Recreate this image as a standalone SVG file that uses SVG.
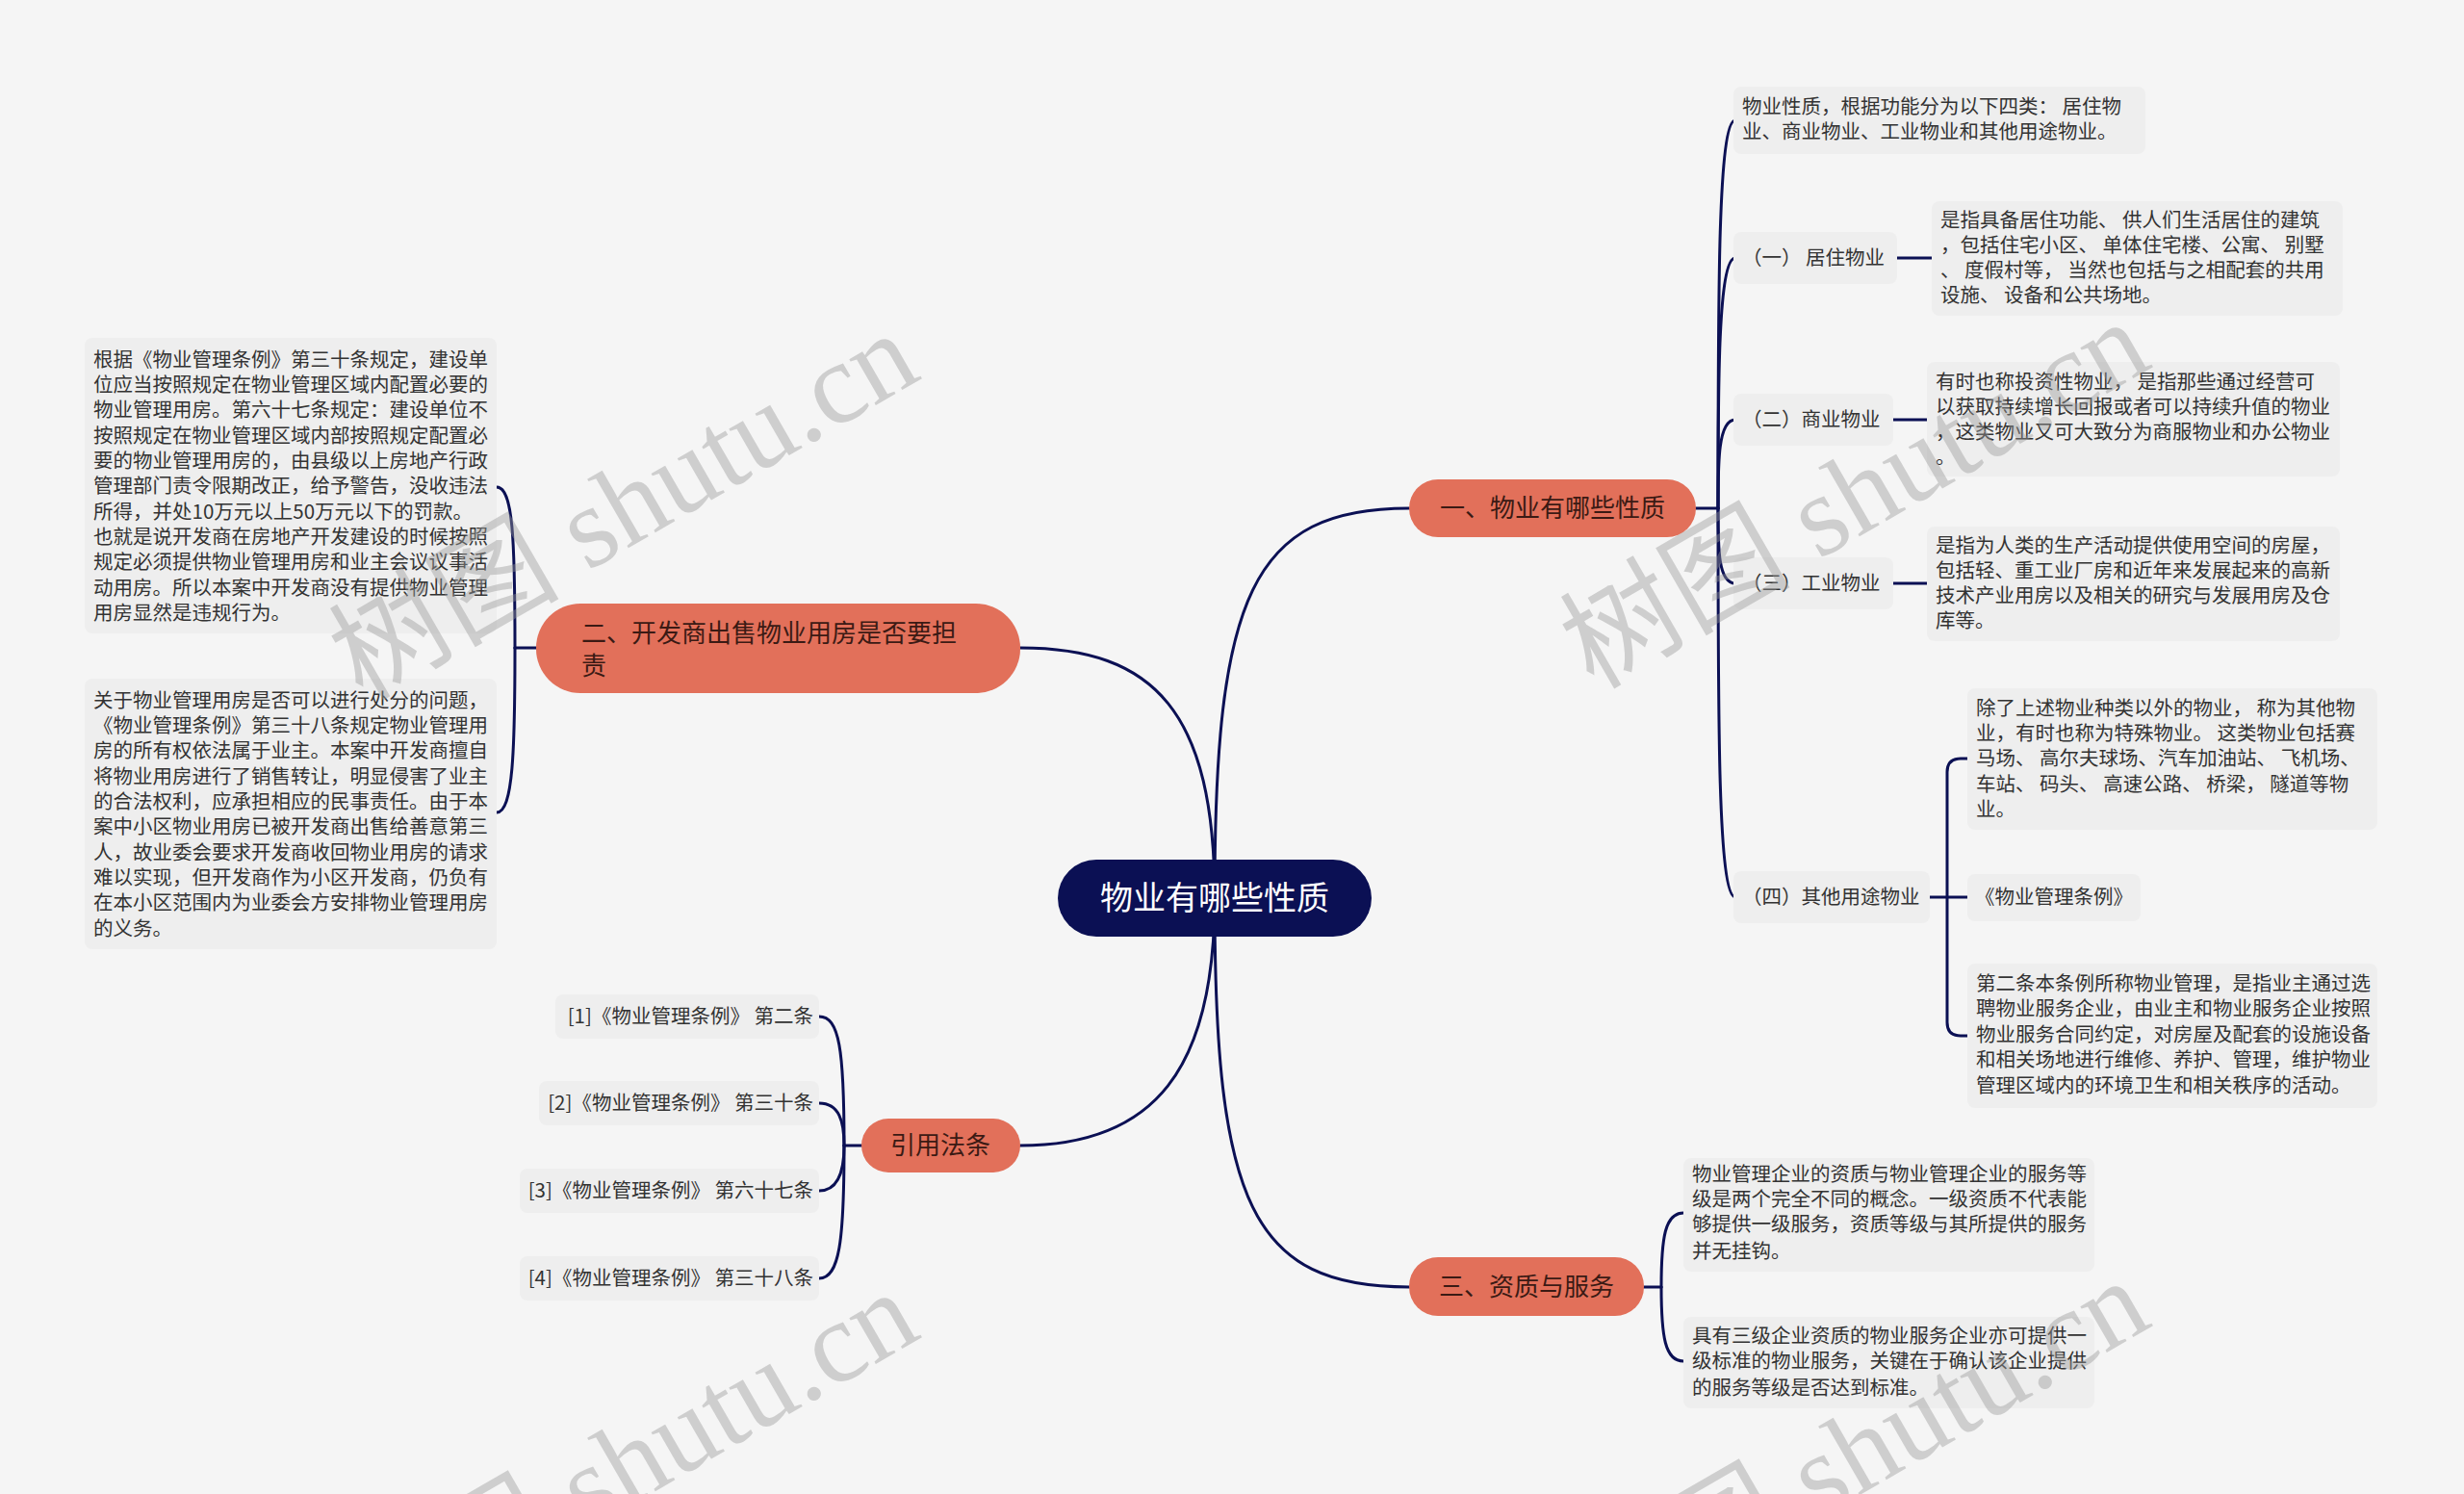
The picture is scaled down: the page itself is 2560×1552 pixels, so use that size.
<svg xmlns="http://www.w3.org/2000/svg" width="2560" height="1552" viewBox="0 0 2560 1552">
<style>
.bg{fill:#f5f5f5}
.box{fill:#eeeeee}
.t{font-family:"Noto Sans CJK SC","Noto Sans",sans-serif;font-size:20.5px;fill:#333333}
.main{fill:#e2705a}
.mt{font-family:"Noto Sans CJK SC","Noto Sans",sans-serif;font-size:26px;fill:#3b1a14}
.root{fill:#0b1054}
.rt{font-family:"Noto Sans CJK SC","Noto Sans",sans-serif;font-size:34px;fill:#ffffff}
.c{fill:none;stroke:#0b1054;stroke-width:3;stroke-linecap:round}
.wm{font-family:"Liberation Serif","Noto Sans CJK SC",serif;font-size:120px;fill:#999999;fill-opacity:0.42}
</style>
<rect class="bg" x="0" y="0" width="2560" height="1552"/>

<g id="connectors">
  <!-- root to main branches -->
  <path class="c" d="M1262 933 C1262 620,1300 528,1464 528"/>
  <path class="c" d="M1262 933 C1262 740,1200 673,1060 673"/>
  <path class="c" d="M1262 933 C1262 1110,1200 1190,1060 1190"/>
  <path class="c" d="M1262 933 C1262 1250,1300 1337,1464 1337"/>
  <!-- branch 一 -->
  <path class="c" d="M1762 528 L1785 528"/>
  <path class="c" d="M1785 528 C1785 300,1785 125,1803 125"/>
  <path class="c" d="M1785 528 C1785 400,1785 268,1803 268"/>
  <path class="c" d="M1785 528 C1785 480,1785 436,1803 436"/>
  <path class="c" d="M1785 528 C1785 570,1785 606,1803 606"/>
  <path class="c" d="M1785 528 C1785 750,1785 932,1803 932"/>
  <path class="c" d="M1971 268 L2007 268"/>
  <path class="c" d="M1967 436 L2002 436"/>
  <path class="c" d="M1967 606 L2002 606"/>
  <!-- (四) -->
  <path class="c" d="M2005 932 L2044 932"/>
  <path class="c" d="M2023 932 L2023 802 Q2023 788 2037 788 L2044 788"/>
  <path class="c" d="M2023 932 L2023 1062 Q2023 1076 2037 1076 L2044 1076"/>
  <!-- branch 三 -->
  <path class="c" d="M1708 1337 L1726 1337"/>
  <path class="c" d="M1726 1337 C1726 1285,1730 1260,1749 1260"/>
  <path class="c" d="M1726 1337 C1726 1389,1730 1414,1749 1414"/>
  <!-- branch 二 -->
  <path class="c" d="M557 673 L535 673"/>
  <path class="c" d="M535 673 C535 560,533 506,516 506"/>
  <path class="c" d="M535 673 C535 780,533 844,516 844"/>
  <!-- branch 引用法条 -->
  <path class="c" d="M895 1190 L877 1190"/>
  <path class="c" d="M877 1190 C877 1090,872 1056,851 1056"/>
  <path class="c" d="M877 1190 C877 1165,872 1146,851 1146"/>
  <path class="c" d="M877 1190 C877 1215,872 1237,851 1237"/>
  <path class="c" d="M877 1190 C877 1290,872 1328,851 1328"/>
</g>

<g id="root">
  <rect class="root" x="1099" y="893" width="326" height="80" rx="40"/>
  <text class="rt" x="1262" y="945" text-anchor="middle">物业有哪些性质</text>
</g>

<g id="n1">
  <rect class="main" x="1464" y="498" width="298" height="60" rx="30"/>
  <text class="mt" x="1613" y="537" text-anchor="middle">一、物业有哪些性质</text>
</g>
<g id="n2">
  <rect class="main" x="557" y="627" width="503" height="93" rx="46"/>
  <text class="mt" x="604" y="667">二、开发商出售物业用房是否要担</text>
  <text class="mt" x="604" y="701">责</text>
</g>
<g id="n3">
  <rect class="main" x="895" y="1162" width="165" height="56" rx="28"/>
  <text class="mt" x="977" y="1199" text-anchor="middle">引用法条</text>
</g>
<g id="n4">
  <rect class="main" x="1464" y="1306" width="244" height="61" rx="30"/>
  <text class="mt" x="1586" y="1346" text-anchor="middle">三、资质与服务</text>
</g>

<g id="n1-0">
  <rect class="box" x="1801" y="90" width="428" height="70" rx="8"/>
  <text class="t" x="1810" y="118">物业性质，根据功能分为以下四类： 居住物</text>
  <text class="t" x="1810" y="144">业、商业物业、工业物业和其他用途物业。</text>
</g>
<g id="n1-1">
  <rect class="box" x="1801" y="241" width="170" height="54" rx="8"/>
  <text class="t" x="1810" y="275">（一） 居住物业</text>
</g>
<g id="n1-1-1">
  <rect class="box" x="2007" y="209" width="427" height="119" rx="8"/>
  <text class="t" x="2016" y="236">是指具备居住功能、 供人们生活居住的建筑</text>
  <text class="t" x="2016" y="262">，包括住宅小区、 单体住宅楼、公寓、 别墅</text>
  <text class="t" x="2016" y="288">、 度假村等， 当然也包括与之相配套的共用</text>
  <text class="t" x="2016" y="314">设施、 设备和公共场地。</text>
</g>
<g id="n1-2">
  <rect class="box" x="1801" y="409" width="166" height="54" rx="8"/>
  <text class="t" x="1810" y="443">（二）商业物业</text>
</g>
<g id="n1-2-1">
  <rect class="box" x="2002" y="376" width="429" height="119" rx="8"/>
  <text class="t" x="2011" y="404">有时也称投资性物业， 是指那些通过经营可</text>
  <text class="t" x="2011" y="430">以获取持续增长回报或者可以持续升值的物业</text>
  <text class="t" x="2011" y="456">，这类物业又可大致分为商服物业和办公物业</text>
  <text class="t" x="2011" y="482">。</text>
</g>
<g id="n1-3">
  <rect class="box" x="1801" y="579" width="166" height="54" rx="8"/>
  <text class="t" x="1810" y="613">（三）工业物业</text>
</g>
<g id="n1-3-1">
  <rect class="box" x="2002" y="547" width="429" height="119" rx="8"/>
  <text class="t" x="2011" y="574">是指为人类的生产活动提供使用空间的房屋，</text>
  <text class="t" x="2011" y="600">包括轻、重工业厂房和近年来发展起来的高新</text>
  <text class="t" x="2011" y="626">技术产业用房以及相关的研究与发展用房及仓</text>
  <text class="t" x="2011" y="652">库等。</text>
</g>
<g id="n1-4">
  <rect class="box" x="1801" y="905" width="204" height="54" rx="8"/>
  <text class="t" x="1810" y="939">（四）其他用途物业</text>
</g>
<g id="n1-4-1">
  <rect class="box" x="2044" y="715" width="426" height="147" rx="8"/>
  <text class="t" x="2053" y="743">除了上述物业种类以外的物业， 称为其他物</text>
  <text class="t" x="2053" y="769">业，有时也称为特殊物业。 这类物业包括赛</text>
  <text class="t" x="2053" y="795">马场、 高尔夫球场、汽车加油站、 飞机场、</text>
  <text class="t" x="2053" y="822">车站、 码头、 高速公路、 桥梁， 隧道等物</text>
  <text class="t" x="2053" y="848">业。</text>
</g>
<g id="n1-4-2">
  <rect class="box" x="2044" y="908" width="180" height="49" rx="8"/>
  <text class="t" x="2134" y="939" text-anchor="middle">《物业管理条例》</text>
</g>
<g id="n1-4-3">
  <rect class="box" x="2044" y="1001" width="426" height="150" rx="8"/>
  <text class="t" x="2053" y="1029">第二条本条例所称物业管理，是指业主通过选</text>
  <text class="t" x="2053" y="1055">聘物业服务企业，由业主和物业服务企业按照</text>
  <text class="t" x="2053" y="1082">物业服务合同约定，对房屋及配套的设施设备</text>
  <text class="t" x="2053" y="1108">和相关场地进行维修、养护、管理，维护物业</text>
  <text class="t" x="2053" y="1135">管理区域内的环境卫生和相关秩序的活动。</text>
</g>

<g id="n2-1">
  <rect class="box" x="88" y="351" width="428" height="307" rx="8"/>
  <text class="t" x="97" y="381">根据《物业管理条例》第三十条规定，建设单</text>
  <text class="t" x="97" y="407">位应当按照规定在物业管理区域内配置必要的</text>
  <text class="t" x="97" y="433">物业管理用房。第六十七条规定：建设单位不</text>
  <text class="t" x="97" y="460">按照规定在物业管理区域内部按照规定配置必</text>
  <text class="t" x="97" y="486">要的物业管理用房的，由县级以上房地产行政</text>
  <text class="t" x="97" y="512">管理部门责令限期改正，给予警告，没收违法</text>
  <text class="t" x="97" y="539">所得，并处10万元以上50万元以下的罚款。</text>
  <text class="t" x="97" y="565">也就是说开发商在房地产开发建设的时候按照</text>
  <text class="t" x="97" y="591">规定必须提供物业管理用房和业主会议议事活</text>
  <text class="t" x="97" y="618">动用房。所以本案中开发商没有提供物业管理</text>
  <text class="t" x="97" y="644">用房显然是违规行为。</text>
</g>
<g id="n2-2">
  <rect class="box" x="88" y="705" width="428" height="281" rx="8"/>
  <text class="t" x="97" y="735">关于物业管理用房是否可以进行处分的问题，</text>
  <text class="t" x="97" y="761">《物业管理条例》第三十八条规定物业管理用</text>
  <text class="t" x="97" y="787">房的所有权依法属于业主。本案中开发商擅自</text>
  <text class="t" x="97" y="814">将物业用房进行了销售转让，明显侵害了业主</text>
  <text class="t" x="97" y="840">的合法权利，应承担相应的民事责任。由于本</text>
  <text class="t" x="97" y="866">案中小区物业用房已被开发商出售给善意第三</text>
  <text class="t" x="97" y="893">人，故业委会要求开发商收回物业用房的请求</text>
  <text class="t" x="97" y="919">难以实现，但开发商作为小区开发商，仍负有</text>
  <text class="t" x="97" y="945">在本小区范围内为业委会方安排物业管理用房</text>
  <text class="t" x="97" y="972">的义务。</text>
</g>

<g id="n3-1">
  <rect class="box" x="577" y="1033" width="274" height="46" rx="8"/>
  <text class="t" x="845" y="1063" text-anchor="end">[1]《物业管理条例》 第二条</text>
</g>
<g id="n3-2">
  <rect class="box" x="560" y="1123" width="291" height="46" rx="8"/>
  <text class="t" x="845" y="1153" text-anchor="end">[2]《物业管理条例》 第三十条</text>
</g>
<g id="n3-3">
  <rect class="box" x="540" y="1214" width="311" height="46" rx="8"/>
  <text class="t" x="845" y="1244" text-anchor="end">[3]《物业管理条例》 第六十七条</text>
</g>
<g id="n3-4">
  <rect class="box" x="540" y="1305" width="311" height="46" rx="8"/>
  <text class="t" x="845" y="1335" text-anchor="end">[4]《物业管理条例》 第三十八条</text>
</g>

<g id="n4-1">
  <rect class="box" x="1749" y="1203" width="427" height="118" rx="8"/>
  <text class="t" x="1758" y="1227">物业管理企业的资质与物业管理企业的服务等</text>
  <text class="t" x="1758" y="1253">级是两个完全不同的概念。一级资质不代表能</text>
  <text class="t" x="1758" y="1279">够提供一级服务，资质等级与其所提供的服务</text>
  <text class="t" x="1758" y="1307">并无挂钩。</text>
</g>
<g id="n4-2">
  <rect class="box" x="1749" y="1368" width="427" height="95" rx="8"/>
  <text class="t" x="1758" y="1395">具有三级企业资质的物业服务企业亦可提供一</text>
  <text class="t" x="1758" y="1421">级标准的物业服务，关键在于确认该企业提供</text>
  <text class="t" x="1758" y="1449">的服务等级是否达到标准。</text>
</g>

<g id="watermarks">
  <text class="wm" transform="translate(648,526) rotate(-30)" y="40" text-anchor="middle">树图 shutu.cn</text>
  <text class="wm" transform="translate(1927,514) rotate(-30)" y="40" text-anchor="middle">树图 shutu.cn</text>
  <text class="wm" transform="translate(648,1522) rotate(-30)" y="40" text-anchor="middle">树图 shutu.cn</text>
  <text class="wm" transform="translate(1927,1510) rotate(-30)" y="40" text-anchor="middle">树图 shutu.cn</text>
</g>
</svg>
